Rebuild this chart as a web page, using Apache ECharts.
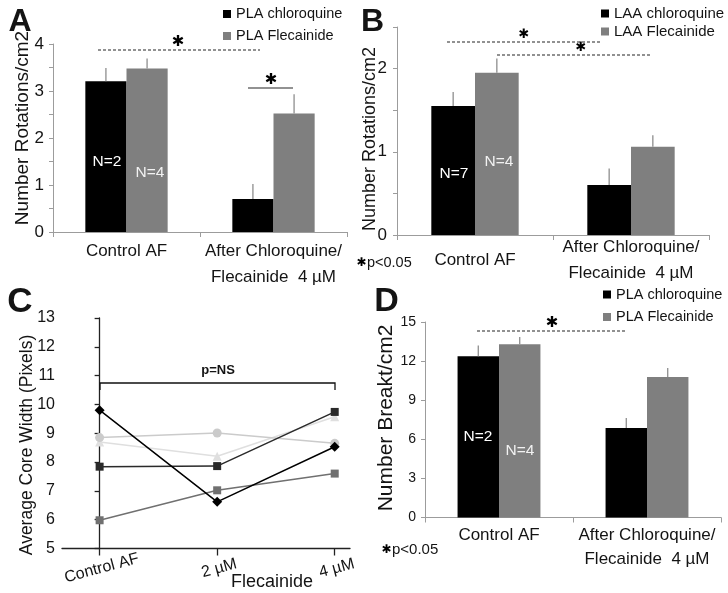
<!DOCTYPE html>
<html><head><meta charset="utf-8">
<script src="https://cdn.jsdelivr.net/npm/echarts@6/dist/echarts.min.js"></script>
<style>html,body{margin:0;padding:0;background:#fff}#c{width:728px;height:593px}</style>
</head><body><div id="c"></div>
<script>
// ---------- data ----------
const barCategories = ['Control AF', 'After Chloroquine/\nFlecainide  4 µM'];

const legendA = ['PLA chloroquine', 'PLA Flecainide'];
const aChloroquine = [3.21, 0.70];
const aChloroquineErr = [0.28, 0.32];
const aFlecainide = [3.48, 2.52];
const aFlecainideErr = [0.21, 0.41];
const aTicks = [0, 1, 2, 3, 4];
const aN = ['N=2', 'N=4'];

const legendB = ['LAA chloroquine', 'LAA Flecainide'];
const bChloroquine = [1.55, 0.60];
const bChloroquineErr = [0.17, 0.20];
const bFlecainide = [1.95, 1.06];
const bFlecainideErr = [0.17, 0.14];
const bTicks = [0, 1, 2];
const bN = ['N=7', 'N=4'];

const cCategories = ['Control AF', '2 µM', '4 µM'];
const cLine1 = [9.80, 6.62, 8.53];
const cLine2 = [7.84, 7.86, 9.74];
const cLine3 = [5.98, 7.02, 7.60];
const cLine4 = [8.85, 9.01, 8.65];
const cLine5 = [8.70, 8.20, 9.57];
const cTicks = [5, 6, 7, 8, 9, 10, 11, 12, 13];

const legendD = ['PLA chloroquine', 'PLA Flecainide'];
const dChloroquine = [12.37, 6.87];
const dChloroquineErr = [0.83, 0.77];
const dFlecainide = [13.29, 10.78];
const dFlecainideErr = [0.56, 0.69];
const dTicks = [0, 3, 6, 9, 12, 15];
const dN = ['N=2', 'N=4'];

// ---------- styles ----------
const FONT = "'Liberation Sans', Arial, Helvetica, sans-serif";
const TXT = '#141414';
const AXIS_GRAY = '#9c9c9c';
const BAR_BLACK = '#000000';
const BAR_GRAY = '#7f7f7f';
const GAP = 0.44;

const chart = echarts.init(document.getElementById('c'), null, {renderer: 'canvas'});

function errRender(side) {
  return function (params, api) {
    const i = api.value(0), v = api.value(1), e = api.value(2);
    const p0 = api.coord([i, v]);
    const p1 = api.coord([i, v + e]);
    const band = api.size([1, 0])[0];
    const bw = band * (1 - GAP) / 2;
    const x = p0[0] + side * bw / 2;
    return {type: 'line', shape: {x1: x, y1: p0[1], x2: x, y2: p1[1]},
      style: {stroke: '#8e8e8e', lineWidth: 1.3}};
  };
}

function barGroup(g, names, v1, e1, v2, e2) {
  return [
    {type: 'bar', name: names[0], xAxisIndex: g, yAxisIndex: g, data: v1,
      barGap: '0%', barCategoryGap: (GAP * 100) + '%', itemStyle: {color: BAR_BLACK}, silent: true},
    {type: 'bar', name: names[1], xAxisIndex: g, yAxisIndex: g, data: v2,
      barGap: '0%', barCategoryGap: (GAP * 100) + '%', itemStyle: {color: BAR_GRAY}, silent: true},
    {type: 'custom', xAxisIndex: g, yAxisIndex: g, z: 3, silent: true,
      renderItem: errRender(-1), encode: {x: 0, y: 1},
      data: v1.map((v, i) => [i, v, e1[i]])},
    {type: 'custom', xAxisIndex: g, yAxisIndex: g, z: 3, silent: true,
      renderItem: errRender(1), encode: {x: 0, y: 1},
      data: v2.map((v, i) => [i, v, e2[i]])}
  ];
}

function catAxis(g, opts) {
  return Object.assign({
    type: 'category', gridIndex: g, data: barCategories,
    axisLine: {lineStyle: {color: AXIS_GRAY, width: 1}},
    axisTick: {show: true, length: 5, lineStyle: {color: AXIS_GRAY}},
    axisLabel: Object.assign({color: TXT, fontSize: 17, fontFamily: FONT, interval: 0, align: 'center'}, opts.label)
  }, opts.axis || {});
}

function valAxis(g, ticks, max, step, label) {
  return {
    type: 'value', gridIndex: g, min: 0, max: max, interval: step,
    splitLine: {show: false},
    axisLine: {show: true, lineStyle: {color: AXIS_GRAY, width: 1}},
    axisTick: {show: true, length: 4, lineStyle: {color: AXIS_GRAY}},
    axisLabel: Object.assign({color: TXT, fontFamily: FONT,
      formatter: v => (ticks.indexOf(v) >= 0 ? String(v) : '')}, label)
  };
}

const cSpecs = [
  {data: cLine5, color: '#dfdfdf', symbol: 'triangle', size: 9},
  {data: cLine4, color: '#cbcbcb', symbol: 'circle', size: 9},
  {data: cLine3, color: '#707070', symbol: 'rect', size: 8},
  {data: cLine2, color: '#2a2a2a', symbol: 'rect', size: 8},
  {data: cLine1, color: '#000000', symbol: 'diamond', size: 10}
];
const cSeries = cSpecs.map((s, k) => ({
  type: 'line', name: 'Case ' + (5 - k), xAxisIndex: 2, yAxisIndex: 2,
  data: s.data.map((v, i) => [i, v]),
  symbol: s.symbol, symbolSize: s.size, showSymbol: true,
  lineStyle: {color: s.color, width: 1.5}, itemStyle: {color: s.color}, silent: true
}));

function t(x, y, text, size, o) {
  o = o || {};
  const font = (o.weight || 'normal') + ' ' + size + 'px ' + (o.family || FONT);
  return {type: 'text', x: x, y: y, rotation: o.rot || 0, z: 50, silent: true,
    style: {text: text, font: font, fill: o.fill || TXT,
      align: o.align || 'center', verticalAlign: 'middle',
      textAlign: o.align || 'center', textVerticalAlign: 'middle'}};
}
function ln(x1, y1, x2, y2, dashed, color) {
  return {type: 'line', z: 50, silent: true, shape: {x1, y1, x2, y2},
    style: {stroke: color || '#6e6e6e', lineWidth: 1.5, lineDash: dashed ? [3, 2] : null}};
}
const STAR = '\u2731';
const starFam = "'DejaVu Sans', sans-serif";

const graphic = [
  // panel letters
  t(20, 22.5, 'A', 32, {weight: 'bold'}),
  t(372.5, 22, 'B', 32, {weight: 'bold'}),
  t(20, 302.5, 'C', 35, {weight: 'bold'}),
  t(386.5, 302, 'D', 34, {weight: 'bold'}),
  // y-axis names
  t(23, 128, 'Number Rotations/cm2', 19, {rot: Math.PI / 2}),
  t(370, 139, 'Number Rotations/cm2', 18, {rot: Math.PI / 2}),
  t(27, 445, 'Average Core Width (Pixels)', 17.5, {rot: Math.PI / 2}),
  t(386, 418, 'Number Breakt/cm2', 21, {rot: Math.PI / 2}),
  // C x name
  t(272, 582, 'Flecainide', 18),
  // N labels
  t(107, 162, aN[0], 15.5, {fill: '#ffffff'}),
  t(150, 173, aN[1], 15.5, {fill: '#f2f2f2'}),
  t(454, 174, bN[0], 15.5, {fill: '#ffffff'}),
  t(499, 162, bN[1], 15.5, {fill: '#f2f2f2'}),
  t(478, 437, dN[0], 15.5, {fill: '#ffffff'}),
  t(520, 451, dN[1], 15.5, {fill: '#f2f2f2'}),
  // significance A
  ln(98, 50, 260, 50, true),
  t(178, 42, STAR, 15, {family: starFam, fill: '#000'}),
  ln(248, 88, 293, 88, false),
  t(271, 80, STAR, 15, {family: starFam, fill: '#000'}),
  // significance B
  ln(447, 42, 602, 42, true),
  t(524, 35, STAR, 13, {family: starFam, fill: '#000'}),
  ln(497, 55, 652, 55, true),
  t(581, 48, STAR, 13, {family: starFam, fill: '#000'}),
  t(361.5, 263, STAR, 12, {family: starFam, fill: '#000'}),
  t(367, 263, 'p<0.05', 14.5, {align: 'left'}),
  // significance D
  ln(477, 331, 627, 331, true),
  t(552, 323, STAR, 15, {family: starFam, fill: '#000'}),
  t(386.5, 550, STAR, 12, {family: starFam, fill: '#000'}),
  t(392, 550, 'p<0.05', 15, {align: 'left'}),
  // C bracket
  {type: 'polyline', z: 50, silent: true,
    shape: {points: [[100, 390], [100, 383], [335, 383], [335, 390]]},
    style: {stroke: '#111', lineWidth: 1.3, fill: null}},
  t(218, 370, 'p=NS', 13, {weight: 'bold'})
];

function legendAt(names, left, top, gap, fs) {
  return {data: names, left: left, top: top, orient: 'vertical', icon: 'rect',
    itemWidth: 8, itemHeight: 8, itemGap: gap, padding: 0, selectedMode: false,
    textStyle: {fontSize: fs, lineHeight: 18, color: TXT, fontFamily: FONT}};
}

const option = {
  animation: false,
  backgroundColor: '#ffffff',
  textStyle: {fontFamily: FONT},
  legend: [
    legendAt(legendA, 223, 5, 4, 14.5),
    legendAt(legendB, 601, 4.5, 0, 15),
    legendAt(legendD, 603, 285.5, 4.5, 14.5)
  ],
  grid: [
    {left: 53, top: 44, width: 294, height: 188},
    {left: 397, top: 27, width: 312, height: 208},
    {left: 62, top: 318, width: 288, height: 230.5},
    {left: 425, top: 322, width: 296, height: 195.5}
  ],
  xAxis: [
    catAxis(0, {label: {margin: 6, lineHeight: 26}}),
    catAxis(1, {label: {margin: 25, lineHeight: 26, verticalAlign: 'middle'}}),
    {type: 'value', gridIndex: 2, min: -0.32, max: 2.13,
      splitLine: {show: false},
      axisLine: {show: true, lineStyle: {color: '#222', width: 1.3}},
      axisTick: {show: true, length: 7, customValues: [0, 1, 2], lineStyle: {color: '#222', width: 1.3}},
      axisLabel: {customValues: [0, 1, 2], formatter: v => cCategories[Math.round(v)] || '',
        rotate: 15, align: 'center', verticalAlign: 'top', margin: 12,
        color: TXT, fontSize: 16, fontFamily: FONT}},
    catAxis(3, {label: {margin: 6, lineHeight: 24}})
  ],
  yAxis: [
    valAxis(0, aTicks, 4, 0.5, {fontSize: 17, margin: 9}),
    valAxis(1, bTicks, 2.5, 0.5, {fontSize: 17, margin: 10}),
    {type: 'value', gridIndex: 2, min: 5, max: 13, interval: 1,
      splitLine: {show: false},
      axisLine: {show: true, lineStyle: {color: '#222', width: 1.3}},
      axisTick: {show: true, length: 5, lineStyle: {color: '#222', width: 1.3}},
      axisLabel: {color: TXT, fontSize: 16, margin: 7, fontFamily: FONT,
        formatter: v => (cTicks.indexOf(v) >= 0 ? String(v) : '')}},
    valAxis(3, dTicks, 15, 3, {fontSize: 14, margin: 9})
  ],
  series: [].concat(
    barGroup(0, legendA, aChloroquine, aChloroquineErr, aFlecainide, aFlecainideErr),
    barGroup(1, legendB, bChloroquine, bChloroquineErr, bFlecainide, bFlecainideErr),
    cSeries,
    barGroup(3, legendD, dChloroquine, dChloroquineErr, dFlecainide, dFlecainideErr)
  ),
  graphic: graphic
};
chart.setOption(option);
</script>
</body></html>
